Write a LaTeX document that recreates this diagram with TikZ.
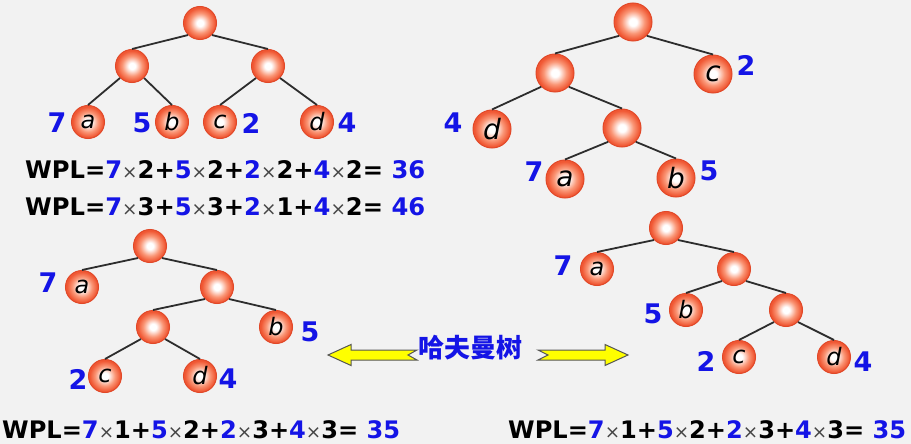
\documentclass[tikz,border=0pt]{standalone}
\usepackage{fontspec}
\usepackage{graphicx}
\setmainfont{DejaVu Sans}
\newfontfamily\cjkfont{Noto Sans CJK SC}
\newfontfamily\letterfont{DejaVu Sans}
\definecolor{bg}{RGB}{242,242,242}
\definecolor{wblue}{RGB}{20,20,230}
\definecolor{ballout}{RGB}{240,88,52}
\definecolor{ballmid}{RGB}{250,150,118}
\definecolor{ballrim}{RGB}{225,72,40}
\definecolor{edgegray}{RGB}{45,45,45}
\definecolor{arrowyellow}{RGB}{255,255,0}
\definecolor{arrowrim}{RGB}{85,85,85}
\definecolor{xgray}{RGB}{70,70,70}
\pgfdeclareradialshading{ballshade}{\pgfpoint{0bp}{0bp}}{color(0bp)=(white); color(5bp)=(white); color(15bp)=(ballmid); color(23bp)=(ballout); color(50bp)=(ballout)}
\newcommand{\wtimes}{{\normalfont\fontsize{19}{24}\selectfont\color{xgray}×}}
\newcommand{\wplline}[6]{\resizebox{#6pt}{!}{\fontsize{25}{30}\selectfont\bfseries WPL=\textcolor{wblue}{7}\wtimes#1+\textcolor{wblue}{5}\wtimes#2+\textcolor{wblue}{2}\wtimes#3+\textcolor{wblue}{4}\wtimes#4= \textcolor{wblue}{#5}}}
\begin{document}
\begin{tikzpicture}[x=1pt,y=-1pt,
  ball/.style={circle,inner sep=0pt,minimum size=33pt,shading=ballshade,draw=ballrim,line width=1pt,font=\letterfont\itshape\fontsize{24}{26}\selectfont},
  bigball/.style={ball,minimum size=38pt,font=\letterfont\itshape\fontsize{28}{30}\selectfont},
  wt/.style={inner sep=0pt,text=wblue,font=\bfseries\fontsize{27}{32}\selectfont},
  edge/.style={draw=edgegray,line width=1.8pt},
  blockarrow/.style={fill=arrowyellow,draw=arrowrim,line width=1pt,line join=miter},
  wpl/.style={anchor=base west,inner sep=0pt}]
\fill[bg] (0,0) rectangle (911,444);
\useasboundingbox (0,0) rectangle (911,444);
% ---------- tree 1 ----------
\node[ball] (t1r) at (200,23) {};
\node[ball] (t1l) at (132,66) {};
\node[ball] (t1m) at (268,66) {};
\node[ball] (t1a) at (88,122) {a};
\node[ball] (t1b) at (172,122) {b};
\node[ball] (t1c) at (220,122) {c};
\node[ball] (t1d) at (317,122) {d};
\draw[edge] (t1r.-135) -- (t1l.north);
\draw[edge] (t1r.-45) -- (t1m.north);
\draw[edge] (t1l.-135) -- (t1a.north);
\draw[edge] (t1l.-45) -- (t1b.north);
\draw[edge] (t1m.-135) -- (t1c.north);
\draw[edge] (t1m.-45) -- (t1d.north);
\node[wt] (w1a) at (57,123) {7};
\node[wt] (w1b) at (142,123) {5};
\node[wt] (w1c) at (251,123) {2};
\node[wt] (w1d) at (347,123) {4};
\node[wpl] (wpl1) at (25,178) {\wplline{2}{2}{2}{2}{36}{400}};
\node[wpl] (wpl2) at (25,215) {\wplline{3}{3}{1}{2}{46}{400}};
% ---------- tree 2 ----------
\node[bigball] (t2r) at (633,22) {};
\node[bigball] (t2l) at (555,73) {};
\node[bigball] (t2c) at (713,74) {c};
\node[bigball] (t2d) at (492,129) {d};
\node[bigball] (t2m) at (622,128) {};
\node[bigball] (t2a) at (565,179) {a};
\node[bigball] (t2b) at (676,178) {b};
\draw[edge] (t2r.-135) -- (t2l.north);
\draw[edge] (t2r.-45) -- (t2c.north);
\draw[edge] (t2l.-135) -- (t2d.north);
\draw[edge] (t2l.-45) -- (t2m.north);
\draw[edge] (t2m.-135) -- (t2a.north);
\draw[edge] (t2m.-45) -- (t2b.north);
\node[wt] (w2c) at (746,65) {2};
\node[wt] (w2d) at (453,123) {4};
\node[wt] (w2a) at (534,172) {7};
\node[wt] (w2b) at (709,171) {5};
% ---------- tree 3 ----------
\node[ball] (t3r) at (150,246) {};
\node[ball] (t3a) at (82,287) {a};
\node[ball] (t3m) at (217,287) {};
\node[ball] (t3n) at (153,327) {};
\node[ball] (t3b) at (276,327) {b};
\node[ball] (t3c) at (105,376) {c};
\node[ball] (t3d) at (200,376) {d};
\draw[edge] (t3r.-135) -- (t3a.north);
\draw[edge] (t3r.-45) -- (t3m.north);
\draw[edge] (t3m.-135) -- (t3n.north);
\draw[edge] (t3m.-45) -- (t3b.north);
\draw[edge] (t3n.-135) -- (t3c.north);
\draw[edge] (t3n.-45) -- (t3d.north);
\node[wt] (w3a) at (48,283) {7};
\node[wt] (w3b) at (310,332) {5};
\node[wt] (w3c) at (78,379) {2};
\node[wt] (w3d) at (228,379) {4};
\node[wpl] (wpl3) at (2,438) {\wplline{1}{2}{3}{3}{35}{398}};
% ---------- tree 4 ----------
\node[ball] (t4r) at (666,228) {};
\node[ball] (t4a) at (597,269) {a};
\node[ball] (t4m) at (734,269) {};
\node[ball] (t4b) at (686,310) {b};
\node[ball] (t4n) at (786,310) {};
\node[ball] (t4c) at (739,357) {c};
\node[ball] (t4d) at (834,357) {d};
\draw[edge] (t4r.-135) -- (t4a.north);
\draw[edge] (t4r.-45) -- (t4m.north);
\draw[edge] (t4m.-135) -- (t4b.north);
\draw[edge] (t4m.-45) -- (t4n.north);
\draw[edge] (t4n.-135) -- (t4c.north);
\draw[edge] (t4n.-45) -- (t4d.north);
\node[wt] (w4a) at (563,266) {7};
\node[wt] (w4b) at (653,314) {5};
\node[wt] (w4c) at (706,361) {2};
\node[wt] (w4d) at (863,362) {4};
\node[wpl] (wpl4) at (508,438) {\wplline{1}{2}{3}{3}{35}{398}};
% ---------- label and block arrows ----------
\node[inner sep=0pt,text=wblue,font=\cjkfont\bfseries\fontsize{26}{30}\selectfont] (huff) at (470,348) {哈夫曼树};
\draw[blockarrow] (328,355) -- (351,344.5) -- (351,350) -- (417,350) -- (408,355) -- (417,360) -- (351,360) -- (351,365.5) -- cycle;
\draw[blockarrow] (628,355) -- (605,344.5) -- (605,350) -- (538,350) -- (548,355) -- (538,360) -- (605,360) -- (605,365.5) -- cycle;
\end{tikzpicture}
\end{document}
